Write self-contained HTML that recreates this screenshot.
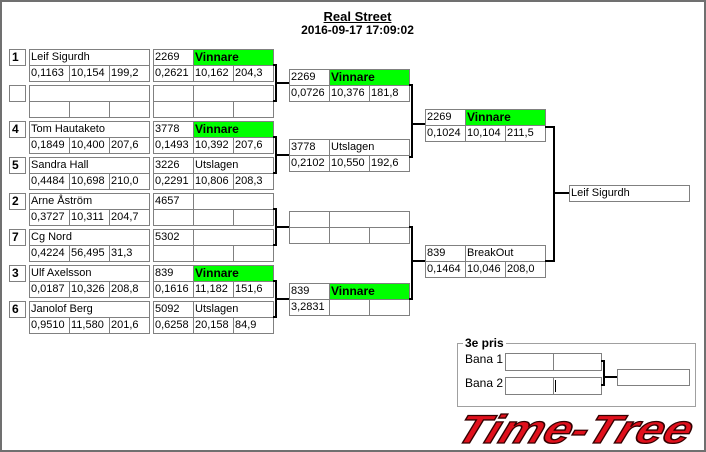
<!DOCTYPE html>
<html><head><meta charset="utf-8"><style>
body{margin:0;width:706px;height:452px;background:#fff;position:relative;overflow:hidden;font-family:"Liberation Sans",sans-serif;}
.f{position:absolute;left:0;top:0;width:702px;height:448px;border:2px solid #707070;}
.c{position:absolute;box-sizing:border-box;height:17px;border:1px solid #808080;font-size:11px;line-height:15px;padding-left:1px;white-space:nowrap;overflow:hidden;color:#000;background:#fff}
.w1{width:41px}.w2{width:81px}.w3{width:121px}
.g{background:#00ff00;font-weight:bold;font-size:12px}
.s{position:absolute;box-sizing:border-box;width:17px;height:17px;border:1px solid #808080;font-weight:bold;font-size:12px;line-height:15px;padding-left:2px}
.l{position:absolute;background:#000}
.t{position:absolute;font-size:11px}
</style></head><body>
<div class="f"></div>
<div class="t" style="left:0;width:715px;top:9px;text-align:center;font-weight:bold;font-size:13px;text-decoration:underline">Real Street</div>
<div class="t" style="left:0;width:715px;top:23px;text-align:center;font-weight:bold;font-size:12px">2016-09-17 17:09:02</div>

<div class="s" style="left:9px;top:49px">1</div>
<div class="s" style="left:9px;top:85px"></div>
<div class="s" style="left:9px;top:121px">4</div>
<div class="s" style="left:9px;top:157px">5</div>
<div class="s" style="left:9px;top:193px">2</div>
<div class="s" style="left:9px;top:229px">7</div>
<div class="s" style="left:9px;top:265px">3</div>
<div class="s" style="left:9px;top:301px">6</div>

<div class="c w3" style="left:29px;top:49px">Leif Sigurdh</div>
<div class="c w1" style="left:29px;top:65px">0,1163</div><div class="c w1" style="left:69px;top:65px">10,154</div><div class="c w1" style="left:109px;top:65px">199,2</div>
<div class="c w3" style="left:29px;top:85px"></div>
<div class="c w1" style="left:29px;top:101px"></div><div class="c w1" style="left:69px;top:101px"></div><div class="c w1" style="left:109px;top:101px"></div>
<div class="c w3" style="left:29px;top:121px">Tom Hautaketo</div>
<div class="c w1" style="left:29px;top:137px">0,1849</div><div class="c w1" style="left:69px;top:137px">10,400</div><div class="c w1" style="left:109px;top:137px">207,6</div>
<div class="c w3" style="left:29px;top:157px">Sandra Hall</div>
<div class="c w1" style="left:29px;top:173px">0,4484</div><div class="c w1" style="left:69px;top:173px">10,698</div><div class="c w1" style="left:109px;top:173px">210,0</div>
<div class="c w3" style="left:29px;top:193px">Arne Åström</div>
<div class="c w1" style="left:29px;top:209px">0,3727</div><div class="c w1" style="left:69px;top:209px">10,311</div><div class="c w1" style="left:109px;top:209px">204,7</div>
<div class="c w3" style="left:29px;top:229px">Cg Nord</div>
<div class="c w1" style="left:29px;top:245px">0,4224</div><div class="c w1" style="left:69px;top:245px">56,495</div><div class="c w1" style="left:109px;top:245px">31,3</div>
<div class="c w3" style="left:29px;top:265px">Ulf Axelsson</div>
<div class="c w1" style="left:29px;top:281px">0,0187</div><div class="c w1" style="left:69px;top:281px">10,326</div><div class="c w1" style="left:109px;top:281px">208,8</div>
<div class="c w3" style="left:29px;top:301px">Janolof Berg</div>
<div class="c w1" style="left:29px;top:317px">0,9510</div><div class="c w1" style="left:69px;top:317px">11,580</div><div class="c w1" style="left:109px;top:317px">201,6</div>

<div class="c w1" style="left:153px;top:49px">2269</div><div class="c w2 g" style="left:193px;top:49px">Vinnare</div>
<div class="c w1" style="left:153px;top:65px">0,2621</div><div class="c w1" style="left:193px;top:65px">10,162</div><div class="c w1" style="left:233px;top:65px">204,3</div>
<div class="c w1" style="left:153px;top:85px"></div><div class="c w2" style="left:193px;top:85px"></div>
<div class="c w1" style="left:153px;top:101px"></div><div class="c w1" style="left:193px;top:101px"></div><div class="c w1" style="left:233px;top:101px"></div>
<div class="c w1" style="left:153px;top:121px">3778</div><div class="c w2 g" style="left:193px;top:121px">Vinnare</div>
<div class="c w1" style="left:153px;top:137px">0,1493</div><div class="c w1" style="left:193px;top:137px">10,392</div><div class="c w1" style="left:233px;top:137px">207,6</div>
<div class="c w1" style="left:153px;top:157px">3226</div><div class="c w2" style="left:193px;top:157px">Utslagen</div>
<div class="c w1" style="left:153px;top:173px">0,2291</div><div class="c w1" style="left:193px;top:173px">10,806</div><div class="c w1" style="left:233px;top:173px">208,3</div>
<div class="c w1" style="left:153px;top:193px">4657</div><div class="c w2" style="left:193px;top:193px"></div>
<div class="c w1" style="left:153px;top:209px"></div><div class="c w1" style="left:193px;top:209px"></div><div class="c w1" style="left:233px;top:209px"></div>
<div class="c w1" style="left:153px;top:229px">5302</div><div class="c w2" style="left:193px;top:229px"></div>
<div class="c w1" style="left:153px;top:245px"></div><div class="c w1" style="left:193px;top:245px"></div><div class="c w1" style="left:233px;top:245px"></div>
<div class="c w1" style="left:153px;top:265px">839</div><div class="c w2 g" style="left:193px;top:265px">Vinnare</div>
<div class="c w1" style="left:153px;top:281px">0,1616</div><div class="c w1" style="left:193px;top:281px">11,182</div><div class="c w1" style="left:233px;top:281px">151,6</div>
<div class="c w1" style="left:153px;top:301px">5092</div><div class="c w2" style="left:193px;top:301px">Utslagen</div>
<div class="c w1" style="left:153px;top:317px">0,6258</div><div class="c w1" style="left:193px;top:317px">20,158</div><div class="c w1" style="left:233px;top:317px">84,9</div>

<div class="l" style="left:273px;top:64px;width:4px;height:2px"></div><div class="l" style="left:275px;top:64px;width:2px;height:38px"></div><div class="l" style="left:273px;top:100px;width:4px;height:2px"></div><div class="l" style="left:275px;top:82px;width:14px;height:2px"></div>
<div class="l" style="left:273px;top:136px;width:4px;height:2px"></div><div class="l" style="left:275px;top:136px;width:2px;height:38px"></div><div class="l" style="left:273px;top:172px;width:4px;height:2px"></div><div class="l" style="left:275px;top:154px;width:14px;height:2px"></div>
<div class="l" style="left:273px;top:208px;width:4px;height:2px"></div><div class="l" style="left:275px;top:208px;width:2px;height:38px"></div><div class="l" style="left:273px;top:244px;width:4px;height:2px"></div><div class="l" style="left:275px;top:226px;width:14px;height:2px"></div>
<div class="l" style="left:273px;top:280px;width:4px;height:2px"></div><div class="l" style="left:275px;top:280px;width:2px;height:38px"></div><div class="l" style="left:273px;top:316px;width:4px;height:2px"></div><div class="l" style="left:275px;top:298px;width:14px;height:2px"></div>

<div class="c w1" style="left:289px;top:69px">2269</div><div class="c w2 g" style="left:329px;top:69px">Vinnare</div>
<div class="c w1" style="left:289px;top:85px">0,0726</div><div class="c w1" style="left:329px;top:85px">10,376</div><div class="c w1" style="left:369px;top:85px">181,8</div>
<div class="c w1" style="left:289px;top:139px">3778</div><div class="c w2" style="left:329px;top:139px">Utslagen</div>
<div class="c w1" style="left:289px;top:155px">0,2102</div><div class="c w1" style="left:329px;top:155px">10,550</div><div class="c w1" style="left:369px;top:155px">192,6</div>
<div class="c w1" style="left:289px;top:211px"></div><div class="c w2" style="left:329px;top:211px"></div>
<div class="c w1" style="left:289px;top:227px"></div><div class="c w1" style="left:329px;top:227px"></div><div class="c w1" style="left:369px;top:227px"></div>
<div class="c w1" style="left:289px;top:283px">839</div><div class="c w2 g" style="left:329px;top:283px">Vinnare</div>
<div class="c w1" style="left:289px;top:299px">3,2831</div><div class="c w1" style="left:329px;top:299px"></div><div class="c w1" style="left:369px;top:299px"></div>

<div class="l" style="left:409px;top:84px;width:4px;height:2px"></div><div class="l" style="left:411px;top:84px;width:2px;height:74px"></div><div class="l" style="left:409px;top:156px;width:4px;height:2px"></div><div class="l" style="left:411px;top:123px;width:14px;height:2px"></div>
<div class="l" style="left:409px;top:226px;width:4px;height:2px"></div><div class="l" style="left:411px;top:226px;width:2px;height:74px"></div><div class="l" style="left:409px;top:298px;width:4px;height:2px"></div><div class="l" style="left:411px;top:260px;width:14px;height:2px"></div>

<div class="c w1" style="left:425px;top:109px">2269</div><div class="c w2 g" style="left:465px;top:109px">Vinnare</div>
<div class="c w1" style="left:425px;top:125px">0,1024</div><div class="c w1" style="left:465px;top:125px">10,104</div><div class="c w1" style="left:505px;top:125px">211,5</div>
<div class="c w1" style="left:425px;top:245px">839</div><div class="c w2" style="left:465px;top:245px">BreakOut</div>
<div class="c w1" style="left:425px;top:261px">0,1464</div><div class="c w1" style="left:465px;top:261px">10,046</div><div class="c w1" style="left:505px;top:261px">208,0</div>

<div class="l" style="left:545px;top:126px;width:10px;height:2px"></div><div class="l" style="left:553px;top:126px;width:2px;height:136px"></div><div class="l" style="left:545px;top:260px;width:10px;height:2px"></div><div class="l" style="left:553px;top:192px;width:16px;height:2px"></div>

<div class="c w3" style="left:569px;top:185px">Leif Sigurdh</div>

<div style="position:absolute;left:457px;top:343px;width:239px;height:64px;border:1px solid #a0a0a0;box-sizing:border-box"></div>
<div class="t" style="left:463px;top:336px;background:#fff;padding:0 2px;font-weight:bold;font-size:12px">3e pris</div>
<div class="t" style="left:465px;top:352px;font-size:12px">Bana 1</div>
<div class="t" style="left:465px;top:376px;font-size:12px">Bana 2</div>
<div class="c" style="left:505px;top:353px;width:49px;height:18px"></div><div class="c" style="left:553px;top:353px;width:49px;height:18px"></div>
<div class="c" style="left:505px;top:377px;width:49px;height:18px"></div><div class="c" style="left:553px;top:377px;width:49px;height:18px"></div>
<div class="l" style="left:555px;top:380px;width:1px;height:12px"></div>
<div class="l" style="left:601px;top:360px;width:4px;height:2px"></div><div class="l" style="left:603px;top:360px;width:2px;height:26px"></div><div class="l" style="left:601px;top:384px;width:4px;height:2px"></div><div class="l" style="left:603px;top:376px;width:14px;height:2px"></div>
<div class="c" style="left:617px;top:369px;width:73px;height:17px"></div>

<svg style="position:absolute;left:450px;top:406px" width="256" height="44">
<text x="4" y="37" transform="skewX(-20) translate(13,0)" font-family="Liberation Sans, sans-serif" font-weight="bold" font-style="italic" font-size="40" fill="#e0101c" stroke="#300" stroke-width="1.3" textLength="234" lengthAdjust="spacingAndGlyphs">Time-Tree</text>
</svg>
</body></html>
